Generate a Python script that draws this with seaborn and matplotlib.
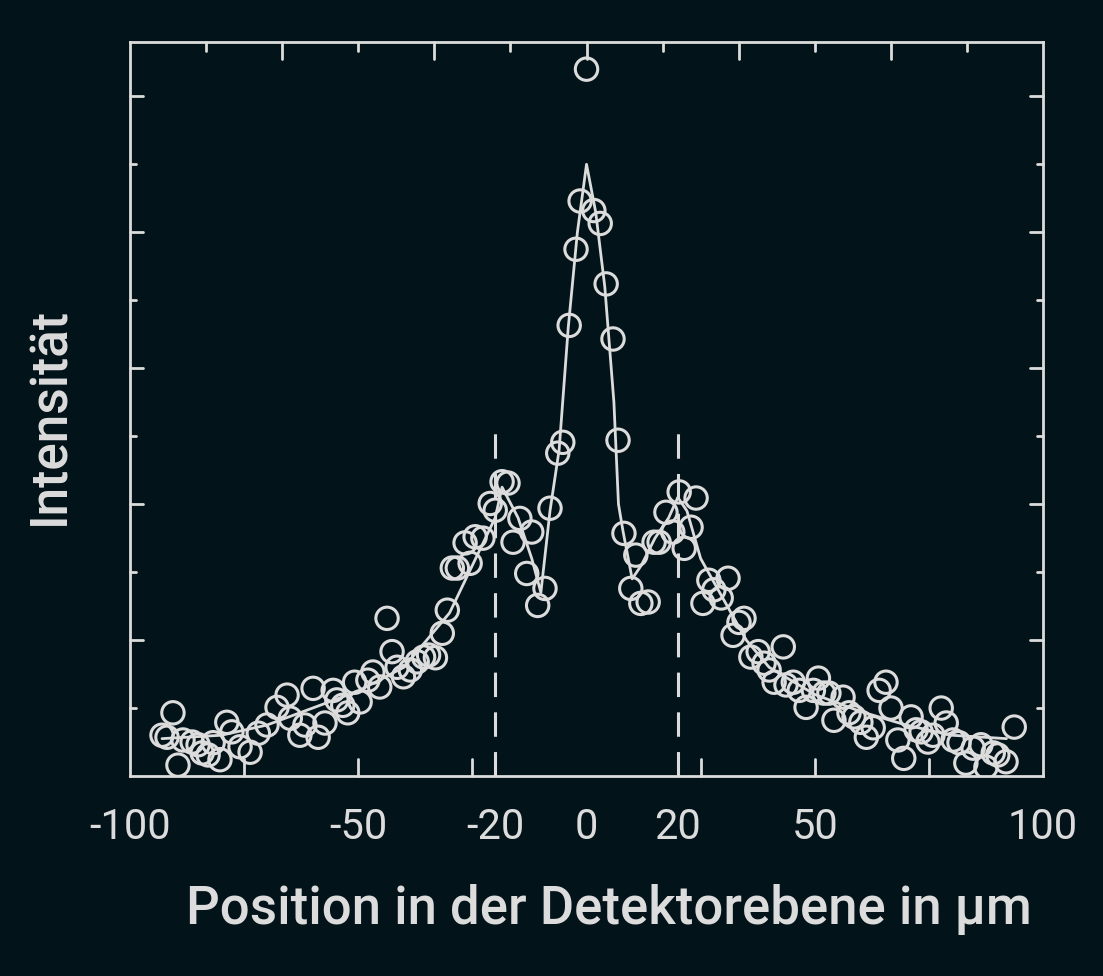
import numpy as np
import pandas as pd
import seaborn as sns
import matplotlib
matplotlib.use("Agg")
import matplotlib.pyplot as plt

x_pts = [-93,-91.9,-90.6,-89.5,-88.4,-86.4,-85.1,-84.2,-82.9,-81.8,-80.3,-78.8,-77.7,-75.9,-73.7,-71.9,-70.0,-67.8,-65.6,-64.9,-62.8,-61.7,-59.9,-58.8,-57.3,-55.5,-54.7,-53.4,-52.3,-50.8,-49.6,-47.9,-46.8,-45.3,-43.7,-42.6,-41.5,-40.1,-38.6,-37.1,-35.7,-34.6,-33.1,-31.6,-30.5,-29.4,-28.3,-25.5,-26.6,-24.4,-22.7,-21.1,-20.0,-18.5,-17.2,-16.1,-14.6,-12.0,-13.1,-10.7,-9.1,-8.0,-6.3,-5.2,-3.8,-2.3,-1.4,1.6,3.0,4.3,5.8,6.9,0.0,
         8.2,10.8,9.7,11.9,13.5,14.8,15.9,17.4,18.9,20.3,21.4,22.9,24.0,26.8,25.5,27.9,29.5,31.0,32.1,33.4,34.5,36.0,37.6,38.9,40.0,41.1,43.1,43.7,45.3,46.6,48.1,49.7,50.8,52.0,53.1,54.2,56.2,57.5,58.6,60.1,61.3,62.8,64.1,65.6,66.7,68.2,69.5,71.1,72.2,73.3,74.8,75.9,77.7,78.8,80.3,81.6,83.1,84.7,86.4,87.5,89.1,90.1,91.9,93.7]
y_pts = [0.60,0.57,0.93,0.16,0.53,0.50,0.46,0.34,0.31,0.49,0.24,0.79,0.65,0.43,0.35,0.63,0.75,1.01,1.19,0.85,0.60,0.75,1.29,0.57,0.78,1.26,1.12,1.04,0.93,1.38,1.09,1.41,1.53,1.31,2.32,1.83,1.60,1.46,1.56,1.68,1.75,1.78,1.74,2.10,2.44,3.06,3.06,3.13,3.43,3.52,3.50,4.01,3.91,4.33,4.31,3.44,3.79,3.59,2.98,2.51,2.76,3.94,4.75,4.91,6.63,7.75,8.46,8.32,8.13,7.24,6.43,4.94,10.4,
         3.57,3.25,2.76,2.54,2.56,3.44,3.44,3.88,3.59,4.18,3.35,3.66,4.09,2.88,2.54,2.74,2.62,2.91,2.07,2.26,2.32,1.75,1.83,1.66,1.56,1.38,1.90,1.34,1.38,1.26,1.01,1.26,1.44,1.22,1.22,0.82,1.16,0.93,0.87,0.79,0.57,0.71,1.26,1.38,1.00,0.53,0.26,0.87,0.68,0.65,0.50,0.60,1.00,0.78,0.53,0.49,0.19,0.41,0.46,0.13,0.34,0.31,0.21,0.72]

x_fit = [-93,-80,-70,-60,-50,-40,-30,-25,-20,-18.5,-15,-12,-10,-8,-6,-4,-2,0,2,4,6,7,8,10,12,15,18,20,22,25,30,35,40,50,60,70,80,92]
y_fit = [0.55,0.6,0.75,1.0,1.25,1.6,2.4,3.1,3.8,4.25,3.8,3.2,2.7,3.9,4.8,6.6,8.0,9.0,8.3,7.2,5.5,4.0,3.6,2.9,3.1,3.5,3.8,4.1,3.9,3.2,2.6,2.0,1.6,1.2,0.95,0.75,0.6,0.55]

pts = pd.DataFrame({"x": x_pts, "y": y_pts})
fit = pd.DataFrame({"x": x_fit, "y": y_fit})

bg = "#03131a"
fg = "#dcdcdc"
sns.set_theme(style="white")
plt.rcParams["font.family"] = ["Roboto", "DejaVu Sans"]

fig = plt.figure(figsize=(11.03, 9.76), dpi=100, facecolor=bg)
ax = fig.add_axes([0.1179, 0.2049, 0.8277, 0.7521])
ax.set_facecolor(bg)

sns.lineplot(data=fit, x="x", y="y", ax=ax, color=fg, lw=2, sort=True)
sns.scatterplot(data=pts, x="x", y="y", ax=ax, s=260, facecolor="none",
                edgecolor=fg, linewidth=2.2, zorder=3)
for v in (-20, 20):
    ax.plot([v, v], [0, 5.09], color=fg, lw=2.2, ls=(0, (8, 5)))

ax.set_xlim(-100, 100)
ax.set_ylim(0, 10.8)
ax.set_xticks([-100, -50, -20, 0, 20, 50, 100])
ax.set_xticklabels(["-100", "-50", "-20", "0", "20", "50", "100"])
ax.set_yticks([])
for s in ax.spines.values():
    s.set_color(fg); s.set_linewidth(2)
ax.tick_params(axis="x", colors=fg, labelsize=30, length=0, pad=22)

for v in [-75, -50, -25, 25, 50, 75]:
    ax.plot([v, v], [0, 0.25], color=fg, lw=2, clip_on=False)
for i, v in enumerate(np.arange(-100 + 100/6, 100, 100/6)):
    L = 0.25 if i % 2 else 0.13
    ax.plot([v, v], [10.8, 10.8 - L], color=fg, lw=2, clip_on=False)
for k in range(1, 11):
    L = 5.0 if k % 2 == 0 else 2.5
    ax.plot([-100, -100 + L * 0.55], [k, k], color=fg, lw=2, clip_on=False)
    ax.plot([100, 100 - L * 0.55], [k, k], color=fg, lw=2, clip_on=False)

ax.set_xlabel("Position in der Detektorebene in µm", color=fg, fontsize=38,
              fontweight="medium")
ax.xaxis.set_label_coords(0.525, -0.147)
ax.set_ylabel("Intensität", color=fg, fontsize=37, fontweight="medium")
ax.yaxis.set_label_coords(-0.06, 0.49)

fig.savefig("out.png", dpi=100, facecolor=bg)
